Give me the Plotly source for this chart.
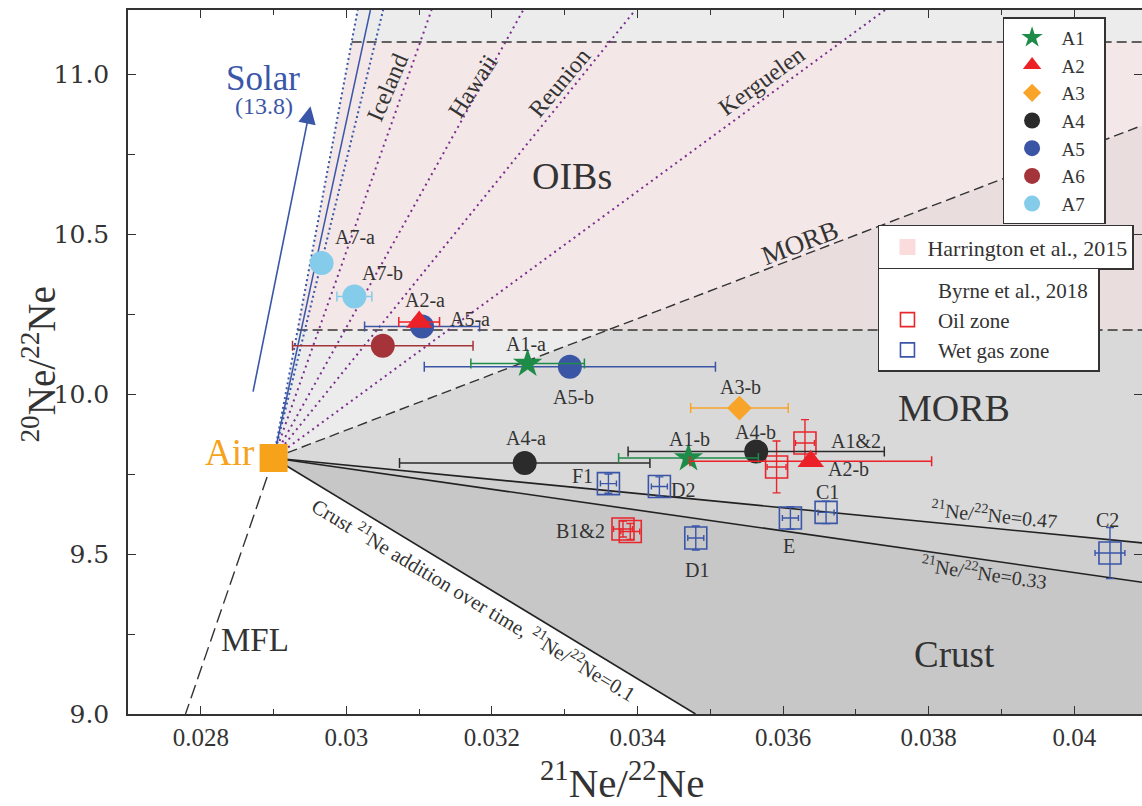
import plotly.graph_objects as go

# ---------------- data ----------------
X_RANGE = [0.027, 0.04093]
Y_RANGE = [9.0, 11.2]

AIR = (0.029, 9.8)
SOLAR = (0.0328, 13.8)
SOLAR_ERR21 = 0.0005
MORB_END = (0.06, 12.5)
MFL_X_AT_9 = 0.02779
CRUST_21 = [0.47, 0.33, 0.1]          # 21Ne/22Ne of crustal end-member at 20Ne/22Ne = 0
OIB_NAMES = ["Iceland", "Hawaii", "Reunion", "Kerguelen"]
OIB_21_AT_SOLAR = [0.0352, 0.0388, 0.0432, 0.0530]
HARRINGTON_BAND = [10.2, 11.1]

# sample groups (x, y, x-error, point labels)
A1_x = [0.03249, 0.03470]; A1_y = [10.095, 9.800]; A1_e = [0.00078, 0.00096]; A1_lab = ["A1-a", "A1-b"]
A2_x = [0.03100, 0.03638]; A2_y = [10.225, 9.790]; A2_e = [0.00028, 0.00166]; A2_lab = ["A2-a", "A2-b"]
A3_x = [0.03540];          A3_y = [9.956];         A3_e = [0.00067];          A3_lab = ["A3-b"]
A4_x = [0.03245, 0.03563]; A4_y = [9.784, 9.820];  A4_e = [0.00172, 0.00176]; A4_lab = ["A4-a", "A4-b"]
A5_x = [0.03104, 0.03307]; A5_y = [10.211, 10.085]; A5_e = [0.00079, 0.00200]; A5_lab = ["A5-a", "A5-b"]
A6_x = [0.03050];          A6_y = [10.151];        A6_e = [0.00124];          A6_lab = [""]
A7_x = [0.02966, 0.03011]; A7_y = [10.409, 10.305]; A7_e = [0.0, 0.00024];   A7_lab = ["A7-a", "A7-b"]

# Byrne et al., 2018
OIL_x = [0.03630, 0.03591, 0.03380, 0.03390]
OIL_y = [9.847, 9.772, 9.578, 9.5705]
OIL_ex = [0.00013, 0.00013, 0.00013, 0.00013]
OIL_ey = [0.073, 0.081, 0.025, 0.025]
OIL_lab = ["A1&2", "", "B1&2", ""]
GAS_x = [0.03360, 0.03430, 0.03480, 0.03610, 0.03659, 0.04049]
GAS_y = [9.720, 9.711, 9.550, 9.6125, 9.630, 9.503]
GAS_ex = [0.00011, 0.00011, 0.00011, 0.00011, 0.00011, 0.000205]
GAS_ey = [0.030, 0.030, 0.0375, 0.035, 0.035, 0.080]
GAS_lab = ["F1", "D2", "D1", "E", "C1", "C2"]

X_TICKS = [0.028, 0.030, 0.032, 0.034, 0.036, 0.038, 0.040]
X_TICKTEXT = ["0.028", "0.03", "0.032", "0.034", "0.036", "0.038", "0.04"]
Y_TICKS = [9.0, 9.5, 10.0, 10.5, 11.0]
Y_TICKTEXT = ["9.0", "9.5", "10.0", "10.5", "11.0"]

# ---------------- styles ----------------
SERIF = "Liberation Serif"
TXT = "#333333"
C = dict(A1="#1e8b48", A2="#ec2127", A3="#f7a428", A4="#2b2b2b", A5="#3b55a5",
         A6="#a5343a", A7="#85cbea", oil="#e8262c", gas="#3a56a8", air="#f7a21b",
         solar="#3a56a8", oib="#7b2d8e")
NB = "\u00a0"

# label offsets in pixels (dx, dy up)
LAB_OFF = {"A1-a": (-2, 20), "A1-b": (1, 19), "A2-a": (6, 22), "A2-b": (38, -8),
           "A3-b": (1, 21), "A4-a": (1, 25), "A4-b": (-1, 20), "A5-a": (48, 7),
           "A5-b": (4, -30), "A7-a": (33, 26), "A7-b": (28, 23),
           "A1&2": (51, 2), "B1&2": (-42, -2), "F1": (-26, 8), "D2": (24, -4),
           "D1": (1, -32), "E": (-1, -28), "C1": (1, 20), "C2": (-2, 33)}

xmin, xmax = X_RANGE
ymin, ymax = Y_RANGE


def x_at(p0, p1, y):
    return p0[0] + (y - p0[1]) * (p1[0] - p0[0]) / (p1[1] - p0[1])


def clip_ray(p0, p1):
    """point where the ray p0->p1 leaves the plotting box"""
    ts = []
    dx, dy = p1[0] - p0[0], p1[1] - p0[1]
    if dx > 0:
        ts.append((xmax - p0[0]) / dx)
    if dx < 0:
        ts.append((xmin - p0[0]) / dx)
    if dy > 0:
        ts.append((ymax - p0[1]) / dy)
    if dy < 0:
        ts.append((ymin - p0[1]) / dy)
    t = min(ts)
    return (p0[0] + t * dx, p0[1] + t * dy)


solar_l = (SOLAR[0] - SOLAR_ERR21, SOLAR[1])
solar_r = (SOLAR[0] + SOLAR_ERR21, SOLAR[1])
crust_pts = [(c, 0.0) for c in CRUST_21]

fig = go.Figure()


def poly(pts, color):
    xs = [p[0] for p in pts] + [pts[0][0]]
    ys = [p[1] for p in pts] + [pts[0][1]]
    fig.add_trace(go.Scatter(x=xs, y=ys, mode="lines", fill="toself", fillcolor=color,
                             line=dict(width=0, color=color), hoverinfo="skip", showlegend=False))


def seg(p0, p1, color, width, dash="solid"):
    fig.add_trace(go.Scatter(x=[p0[0], p1[0]], y=[p0[1], p1[1]], mode="lines",
                             line=dict(color=color, width=width, dash=dash),
                             hoverinfo="skip", showlegend=False))


morb_exit = clip_ray(AIR, MORB_END)
c47 = clip_ray(AIR, crust_pts[0])
c33 = clip_ray(AIR, crust_pts[1])
c10 = clip_ray(AIR, crust_pts[2])
solar_top_l = (x_at(AIR, solar_l, ymax), ymax)

# regions
poly([AIR, solar_top_l, (xmax, ymax), morb_exit], "#ececec")
poly([AIR, morb_exit, c47], "#d9d9d9")
poly([AIR, c47, c33], "#cfcfcf")
poly([AIR, c33, (xmax, ymin), c10], "#c7c7c7")
hb0 = (x_at(AIR, solar_l, HARRINGTON_BAND[0]), HARRINGTON_BAND[0])
hb1 = (x_at(AIR, solar_l, HARRINGTON_BAND[1]), HARRINGTON_BAND[1])
poly([hb0, (xmax, HARRINGTON_BAND[0]), (xmax, HARRINGTON_BAND[1]), hb1], "rgba(255,226,226,0.45)")

# reference lines
for yb, p in zip(HARRINGTON_BAND, [hb0, hb1]):
    seg(p, (xmax, yb), "#333333", 1.3, "10px,5px")
seg(AIR, morb_exit, "#333333", 1.4, "10px,5px")
seg(AIR, (MFL_X_AT_9, ymin), "#333333", 1.4, "14px,6px")
for x21 in OIB_21_AT_SOLAR:
    seg(AIR, clip_ray(AIR, (x21, SOLAR[1])), C["oib"], 2.0, "2px,4px")
seg(AIR, clip_ray(AIR, solar_l), C["solar"], 2.0, "2px,3px")
seg(AIR, clip_ray(AIR, solar_r), C["solar"], 2.0, "2px,3px")
seg(AIR, clip_ray(AIR, SOLAR), C["solar"], 1.5)
for p in [c47, c33, c10]:
    seg(AIR, p, "#222222", 1.6)

# A samples
groups = {
    "A1": (A1_x, A1_y, A1_e, A1_lab, "star", 22),
    "A2": (A2_x, A2_y, A2_e, A2_lab, "triangle-up", 23),
    "A3": (A3_x, A3_y, A3_e, A3_lab, "diamond", 19),
    "A4": (A4_x, A4_y, A4_e, A4_lab, "circle", 24),
    "A5": (A5_x, A5_y, A5_e, A5_lab, "circle", 24),
    "A6": (A6_x, A6_y, A6_e, A6_lab, "circle", 24),
    "A7": (A7_x, A7_y, A7_e, A7_lab, "circle", 24),
}

# Byrne squares
for xs, ys, ex, ey, col in [(OIL_x, OIL_y, OIL_ex, OIL_ey, C["oil"]), (GAS_x, GAS_y, GAS_ex, GAS_ey, C["gas"])]:
    fig.add_trace(go.Scatter(
        x=xs, y=ys, mode="markers",
        marker=dict(symbol="square-open", size=22, color=col, line=dict(width=1.6, color=col)),
        error_x=dict(type="data", array=ex, color=col, thickness=1.4, width=3),
        error_y=dict(type="data", array=ey, color=col, thickness=1.4, width=4),
        showlegend=False, hoverinfo="skip"))

for name in ["A5", "A6", "A7", "A4", "A3", "A1", "A2"]:
    xs, ys, es, labs, sym, sz = groups[name]
    fig.add_trace(go.Scatter(
        x=xs, y=ys, mode="markers",
        marker=dict(symbol=sym, size=sz, color=C[name], line=dict(width=0)),
        error_x=dict(type="data", array=es, color=C[name], thickness=1.5, width=5),
        showlegend=False, hoverinfo="skip"))

# Air
fig.add_trace(go.Scatter(x=[AIR[0]], y=[AIR[1]], mode="markers",
                         marker=dict(symbol="square", size=28, color=C["air"]),
                         showlegend=False, hoverinfo="skip"))

# legend-only entries
for name in ["A1", "A2", "A3", "A4", "A5", "A6", "A7"]:
    sym = groups[name][4]
    fig.add_trace(go.Scatter(x=[None], y=[None], mode="markers", name=NB * 2 + name + NB * 3, legend="legend",
                             marker=dict(symbol=sym, size=16 if sym != "diamond" else 14, color=C[name])))
fig.add_trace(go.Scatter(x=[None], y=[None], mode="markers", name="Harrington et al., 2015", legend="legend2",
                         marker=dict(symbol="square", size=16, color="#fadcdc")))
fig.add_trace(go.Scatter(x=[None], y=[None], mode="markers", name=NB * 2 + "Byrne et al., 2018" + NB, legend="legend3",
                         marker=dict(symbol="square", size=14, color="rgba(0,0,0,0)")))
fig.add_trace(go.Scatter(x=[None], y=[None], mode="markers", name=NB * 2 + "Oil zone", legend="legend3",
                         marker=dict(symbol="square-open", size=14, color=C["oil"], line=dict(width=1.6))))
fig.add_trace(go.Scatter(x=[None], y=[None], mode="markers", name=NB * 2 + "Wet gas zone", legend="legend3",
                         marker=dict(symbol="square-open", size=14, color=C["gas"], line=dict(width=1.6))))

# dummy trace for the right-hand tick axis
fig.add_trace(go.Scatter(x=[None], y=[None], yaxis="y2", showlegend=False, hoverinfo="skip"))

ann = []


def text(x, y, s, size, color=TXT, angle=0, **kw):
    ann.append(dict(x=x, y=y, xref="x", yref="y", text=s, showarrow=False, textangle=angle,
                    font=dict(family=SERIF, size=size, color=color), **kw))


# point labels
all_pts = []
for name, (xs, ys, es, labs, sym, sz) in groups.items():
    all_pts += list(zip(xs, ys, labs))
all_pts += list(zip(OIL_x, OIL_y, OIL_lab)) + list(zip(GAS_x, GAS_y, GAS_lab))
for x, y, lab in all_pts:
    if lab:
        dx, dy = LAB_OFF[lab]
        text(x, y, lab, 20, xshift=dx, yshift=dy)

# region / line names
text(0.028852, 10.985, "Solar", 35, C["solar"])
text(0.028872, 10.899, "(13.8)", 24, C["solar"])
ann.append(dict(x=0.029507, y=10.899, ax=0.028714, ay=10.003, xref="x", yref="y", axref="x", ayref="y",
                text="", showarrow=True, arrowhead=2, arrowsize=2.2, arrowwidth=1.6, arrowcolor=C["solar"]))
text(0.030568, 10.959, "Iceland", 24, angle=-67)
text(0.031736, 10.963, "Hawaii", 24, angle=-57)
text(0.032923, 10.972, "Reunion", 24, angle=-50)
text(0.035706, 10.977, "Kerguelen", 24, angle=-36)
text(0.0331, 10.68, "OIBs", 38)
text(0.036228, 10.473, "MORB", 27, angle=-21)
text(0.038345, 9.957, "MORB", 38)
text(0.03836, 9.185, "Crust", 37)
text(0.028745, 9.232, "MFL", 33)
text(0.028394, 9.818, "Air", 37, C["air"])
text(0.031760, 9.3600, "Crust <sup>21</sup>Ne addition over time, <sup>21</sup>Ne/<sup>22</sup>Ne=0.1", 20.5, angle=31)
text(0.038907, 9.6256, "<sup>21</sup>Ne/<sup>22</sup>Ne=0.47", 20, angle=5.6)
text(0.038766, 9.4447, "<sup>21</sup>Ne/<sup>22</sup>Ne=0.33", 20, angle=8.1)

# axis titles
ann.append(dict(x=0.487, y=-0.133, xref="paper", yref="paper", showarrow=False, xanchor="center",
                yanchor="bottom", text="<sup>21</sup>Ne/<sup>22</sup>Ne",
                font=dict(family=SERIF, size=41, color=TXT)))
ann.append(dict(x=-0.088, y=0.496, xref="paper", yref="paper", showarrow=False, textangle=-90,
                xanchor="center", yanchor="middle", text="<sup>20</sup>Ne/<sup>22</sup>Ne",
                font=dict(family=SERIF, size=39, color=TXT)))

axis_common = dict(showgrid=False, zeroline=False, ticks="inside", ticklen=8, tickwidth=1.4,
                   tickcolor="#333333", linecolor="#333333", linewidth=1.5)

leg_common = dict(xanchor="left", yanchor="top", bgcolor="white", bordercolor="#333333", borderwidth=1.5,
                  itemsizing="trace", indentation=8)

fig.update_layout(
    width=1142, height=806,
    margin=dict(l=128, r=0, t=10, b=92),
    paper_bgcolor="white", plot_bgcolor="white",
    font=dict(family=SERIF, color=TXT),
    xaxis=dict(range=X_RANGE, tickvals=X_TICKS, ticktext=X_TICKTEXT, showline=True, mirror="ticks",
               tickfont=dict(family=SERIF, size=25, color=TXT),
               minor=dict(tickmode="linear", tick0=0.027, dtick=0.001, ticks="inside", ticklen=5,
                          tickwidth=1.2, tickcolor="#333333"),
               **axis_common),
    yaxis=dict(range=Y_RANGE, tickvals=Y_TICKS, ticktext=Y_TICKTEXT, showline=True,
               tickfont=dict(family="DejaVu Serif", size=25, color=TXT), ticklabelstandoff=12,
               minor=dict(tickmode="linear", tick0=9.0, dtick=0.25, ticks="inside", ticklen=7,
                          tickwidth=1.2, tickcolor="#333333"),
               **axis_common),
    yaxis2=dict(range=Y_RANGE, overlaying="y", side="right", showline=False, showticklabels=False,
                tickvals=Y_TICKS, showgrid=False, zeroline=False, ticks="inside", ticklen=8,
                tickwidth=1.4, tickcolor="#333333"),
    legend=dict(x=0.8625, y=0.990, font=dict(family=SERIF, size=19, color=TXT), **leg_common),
    legend2=dict(x=0.7396, y=0.695, font=dict(family=SERIF, size=22, color=TXT), **leg_common),
    legend3=dict(x=0.7396, y=0.634, font=dict(family=SERIF, size=21, color=TXT), **leg_common),
    annotations=ann,
)

fig.write_html("out.html")
